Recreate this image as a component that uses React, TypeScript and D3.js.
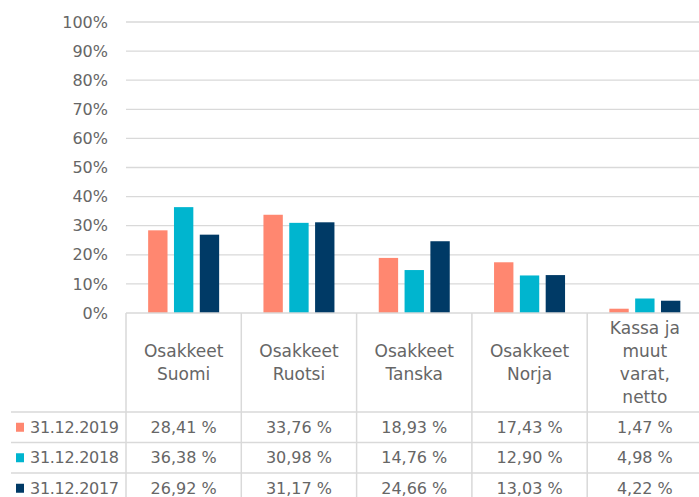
import React from "react";
import * as d3 from "d3";

const categories = [
  ["Osakkeet", "Suomi"],
  ["Osakkeet", "Ruotsi"],
  ["Osakkeet", "Tanska"],
  ["Osakkeet", "Norja"],
  ["Kassa ja", "muut", "varat,", "netto"],
];
const seriesNames = ["31.12.2019", "31.12.2018", "31.12.2017"];
const seriesColors = ["#FF8770", "#00B5CF", "#003A66"];
const values2019 = [28.41, 33.76, 18.93, 17.43, 1.47];
const values2018 = [36.38, 30.98, 14.76, 12.9, 4.98];
const values2017 = [26.92, 31.17, 24.66, 13.03, 4.22];
const yTicks = [0, 10, 20, 30, 40, 50, 60, 70, 80, 90, 100];

const W = 699;
const H = 497;
const font = "'DejaVu Sans', sans-serif";
const textColor = "#666666";
const lineColor = "#D9D9D9";

const fmt = (v: number) => v.toFixed(2).replace(".", ",") + " %";

export default function App() {
  const series = [values2019, values2018, values2017];
  const left = 126;
  const right = 702.5;
  const y = d3.scaleLinear().domain([0, 100]).range([313, 22]);
  const x0 = d3
    .scaleBand<number>()
    .domain(categories.map((_, i) => i))
    .range([left, right]);
  const bw = x0.bandwidth();
  const x1 = d3
    .scaleBand<number>()
    .domain(seriesNames.map((_, i) => i))
    .range([bw / 2 - 35.5, bw / 2 + 35.5])
    .paddingInner(0.25);

  const headerTop = 313;
  const headerBottom = 412;
  const rowH = 30.5;
  const tableLeft = 11;

  return (
    <svg
      width={W}
      height={H}
      style={{ position: "absolute", left: 0, top: 0, background: "#fff" }}
      fontFamily={font}
    >
      {yTicks.map((t) => (
        <g key={t}>
          {t > 0 && (
            <line x1={left} x2={W} y1={y(t)} y2={y(t)} stroke={lineColor} strokeWidth={1.3} />
          )}
          <text
            x={108}
            y={y(t)}
            dy="0.35em"
            textAnchor="end"
            fontSize={16}
            fill={textColor}
          >
            {t}%
          </text>
        </g>
      ))}

      {series.map((vals, s) =>
        vals.map((v, i) => (
          <rect
            key={`${s}-${i}`}
            x={(x0(i) as number) + (x1(s) as number)}
            y={y(v)}
            width={x1.bandwidth()}
            height={y(0) - y(v)}
            fill={seriesColors[s]}
          />
        ))
      )}

      {/* table grid */}
      <line x1={left} x2={W} y1={headerTop} y2={headerTop} stroke={lineColor} strokeWidth={1.5} />
      {categories.map((_, i) => (
        <line
          key={`v${i}`}
          x1={x0(i) as number}
          x2={x0(i) as number}
          y1={headerTop}
          y2={H}
          stroke={lineColor}
          strokeWidth={1.5}
        />
      ))}
      {[0, 1, 2].map((r) => (
        <line
          key={`h${r}`}
          x1={tableLeft}
          x2={W}
          y1={headerBottom + r * rowH}
          y2={headerBottom + r * rowH}
          stroke={lineColor}
          strokeWidth={1.5}
        />
      ))}

      {categories.map((lines, i) => {
        const cx = (x0(i) as number) + bw / 2;
        const lh = 23;
        const cy = (headerTop + headerBottom) / 2;
        const start = cy - ((lines.length - 1) * lh) / 2;
        return (
          <text key={`c${i}`} textAnchor="middle" fontSize={17} fill={textColor}>
            {lines.map((l, k) => (
              <tspan key={k} x={cx} y={start + k * lh} dy="0.35em">
                {l}
              </tspan>
            ))}
          </text>
        );
      })}

      {seriesNames.map((name, s) => {
        const cy = headerBottom + s * rowH + rowH / 2;
        return (
          <g key={name}>
            <rect x={16} y={cy - 4.5} width={8} height={9} fill={seriesColors[s]} />
            <text x={30} y={cy} dy="0.35em" fontSize={16} fill={textColor} textLength={89}>
              {name}
            </text>
            {series[s].map((v, i) => (
              <text
                key={i}
                x={(x0(i) as number) + bw / 2}
                y={cy}
                dy="0.35em"
                textAnchor="middle"
                fontSize={16}
                fill={textColor}
              >
                {fmt(v)}
              </text>
            ))}
          </g>
        );
      })}
    </svg>
  );
}
